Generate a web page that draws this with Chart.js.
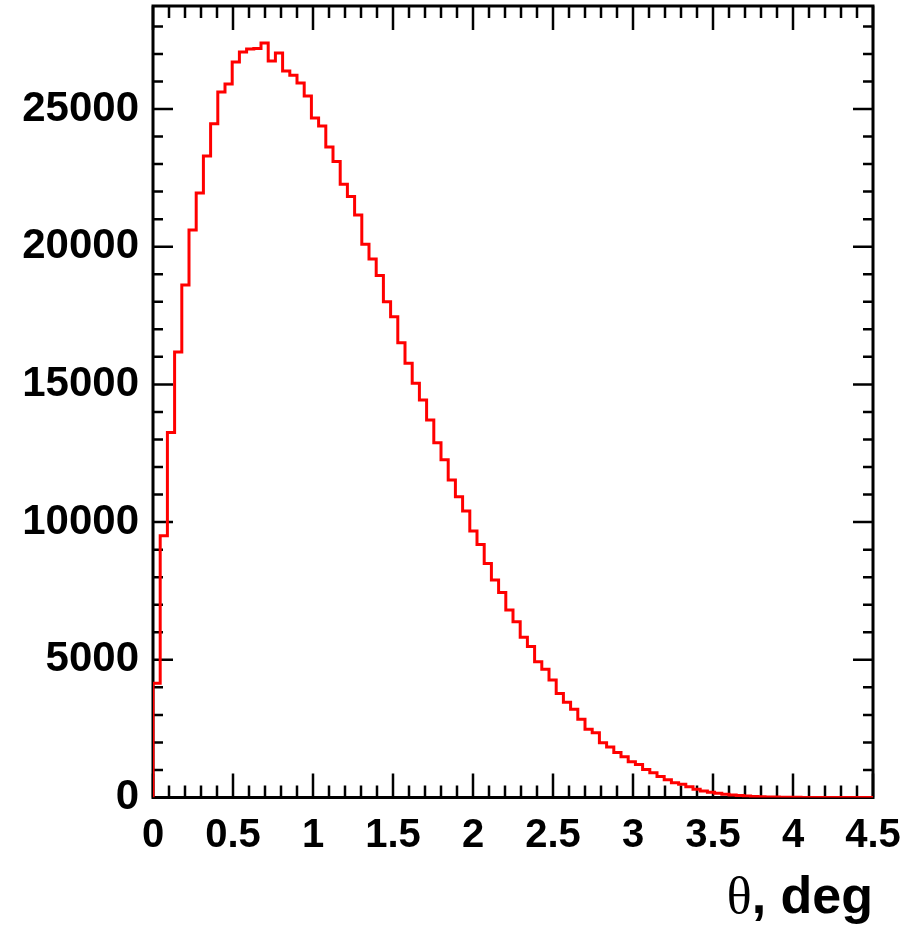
<!DOCTYPE html>
<html>
<head>
<meta charset="utf-8">
<script src="https://cdn.jsdelivr.net/npm/chart.js@4.4.1/dist/chart.umd.min.js"></script>
<style>
  html, body { margin: 0; padding: 0; background: #fff; }
  #grafico { display: block; }
</style>
</head>
<body>
<canvas id="grafico" width="917" height="926"></canvas>
<script>
// Dados do histograma: 100 bins de 0 a 4.5 graus
const larguraBin = 0.045;
const contagens = [
  4150, 9500, 13250, 16180, 18610, 20610, 21950, 23290, 24460, 25620,
  25910, 26710, 27070, 27180, 27200, 27400, 26740, 27030, 26380, 26230,
  25940, 25470, 24670, 24380, 23620, 23090, 22270, 21820, 21150, 20090,
  19550, 18950, 18000, 17460, 16510, 15770, 15040, 14430, 13710, 12880,
  12260, 11530, 10920, 10400, 9680, 9190, 8500, 7900, 7440, 6810,
  6380, 5820, 5480, 4930, 4660, 4270, 3780, 3460, 3200, 2840,
  2480, 2350, 1990, 1830, 1630, 1480, 1300, 1200, 1020, 900,
  760, 640, 540, 480, 390, 300, 240, 190, 150, 115,
  95, 75, 55, 40, 28, 20, 14, 10, 7, 5,
  3, 2, 2, 1, 1, 0, 0, 0, 0, 0
];
const xTicks = [0, 0.5, 1, 1.5, 2, 2.5, 3, 3.5, 4, 4.5];
const yTicks = [0, 5000, 10000, 15000, 20000, 25000];
const xMinorStep = 0.1;
const yMinorStep = 1000;
const xMax = 4.5;
const yMax = 28740;
const tituloX = ', deg';
const simboloX = 'θ';

// Pontos do contorno em degraus (cada ponto = borda esquerda do bin)
const pontos = [{ x: 0, y: 0 }];
contagens.forEach((c, i) => pontos.push({ x: i * larguraBin, y: c }));
pontos.push({ x: contagens.length * larguraBin, y: contagens[contagens.length - 1] });
pontos.push({ x: contagens.length * larguraBin, y: 0 });

// Moldura e ticks para dentro (estilo ROOT)
const molduraPlugin = {
  id: 'moldura',
  beforeDatasetsDraw(chart) {
    const { ctx, chartArea: a, scales: { x, y } } = chart;
    ctx.save();
    ctx.strokeStyle = '#000';
    ctx.lineWidth = 2.5;
    ctx.beginPath();
    const nx = Math.round(xMax / xMinorStep);
    for (let k = 0; k <= nx; k++) {
      const v = k * xMinorStep;
      const major = xTicks.some(t => Math.abs(t - v) < 1e-6);
      const len = major ? 24 : 12;
      const px = x.getPixelForValue(v);
      ctx.moveTo(px, a.bottom); ctx.lineTo(px, a.bottom - len);
      ctx.moveTo(px, a.top); ctx.lineTo(px, a.top + len);
    }
    const ny = Math.floor(yMax / yMinorStep);
    for (let k = 0; k <= ny; k++) {
      const v = k * yMinorStep;
      const len = yTicks.includes(v) ? 20 : 10;
      const py = y.getPixelForValue(v);
      ctx.moveTo(a.left, py); ctx.lineTo(a.left + len, py);
      ctx.moveTo(a.right, py); ctx.lineTo(a.right - len, py);
    }
    ctx.stroke();
    ctx.lineWidth = 3;
    ctx.strokeRect(a.left, a.top, a.right - a.left, a.bottom - a.top);
    ctx.restore();
  },
  afterDraw(chart) {
    // Título do eixo x: theta em serifa + ", deg" em negrito
    const { ctx, chartArea: a } = chart;
    ctx.save();
    ctx.fillStyle = '#000';
    ctx.textBaseline = 'alphabetic';
    ctx.textAlign = 'right';
    const base = a.bottom + 115;
    ctx.font = 'bold 52px "Liberation Sans", Arial, sans-serif';
    ctx.fillText(tituloX, a.right, base);
    const w = ctx.measureText(tituloX).width;
    ctx.font = '52px "Liberation Serif", "DejaVu Serif", serif';
    ctx.fillText(simboloX, a.right - w, base);
    ctx.restore();
  }
};

const grafico = new Chart(document.getElementById('grafico'), {
  type: 'line',
  data: {
    datasets: [{
      data: pontos,
      stepped: 'before',
      borderColor: '#ff0000',
      borderWidth: 3,
      pointRadius: 0,
      fill: false
    }]
  },
  options: {
    responsive: false,
    animation: false,
    layout: { padding: { top: 6, right: 44, left: 0, bottom: 0 } },
    plugins: {
      legend: { display: false },
      tooltip: { enabled: false },
      title: { display: false }
    },
    scales: {
      x: {
        type: 'linear',
        min: 0,
        max: xMax,
        grid: { display: false, drawTicks: false },
        border: { display: false },
        afterBuildTicks: s => { s.ticks = xTicks.map(v => ({ value: v })); },
        afterFit: s => { s.height = 128.5; s.paddingLeft = 0; s.paddingRight = 0; },
        ticks: {
          color: '#000',
          padding: 14,
          maxRotation: 0,
          autoSkip: false,
          font: { family: '"Liberation Sans", Arial, sans-serif', size: 40, weight: 'bold' },
          callback: v => String(v)
        }
      },
      y: {
        type: 'linear',
        min: 0,
        max: yMax,
        grid: { display: false, drawTicks: false },
        border: { display: false },
        afterBuildTicks: s => { s.ticks = yTicks.map(v => ({ value: v })); },
        afterFit: s => { s.width = 153; s.paddingTop = 0; s.paddingBottom = 0; },
        ticks: {
          color: '#000',
          padding: 14,
          autoSkip: false,
          font: { family: '"Liberation Sans", Arial, sans-serif', size: 42, weight: 'bold' },
          callback: v => String(v)
        }
      }
    }
  },
  plugins: [molduraPlugin]
});
</script>
</body>
</html>
